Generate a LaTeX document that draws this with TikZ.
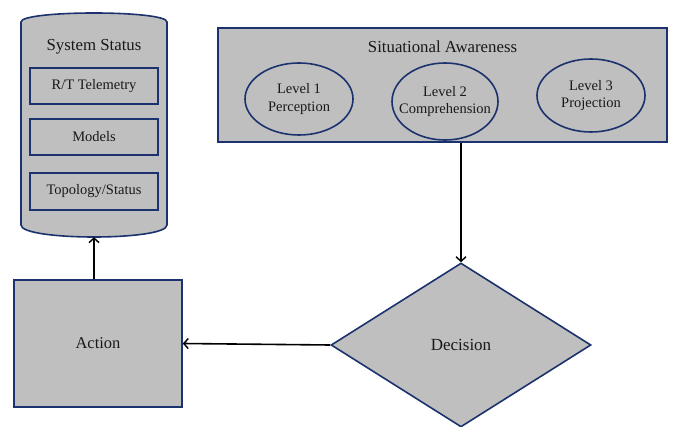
\documentclass[tikz,border=0pt]{standalone}
\usepackage{fontspec}
\setmainfont{Liberation Serif}
\usetikzlibrary{shapes.geometric,arrows.meta}
\definecolor{boxfill}{RGB}{191,191,191}
\definecolor{boxline}{RGB}{28,50,110}
\definecolor{txt}{RGB}{25,25,25}
\newcommand{\zw}[1]{\makebox[0pt]{#1}}
\begin{document}
\begin{tikzpicture}[x=1pt,y=-1pt,
  shp/.style={fill=boxfill,draw=boxline,line width=1.6pt,text=txt,inner sep=0pt},
  inbox/.style={shp,rectangle,minimum width=128pt,minimum height=36pt,font=\fontsize{14.5}{17}\selectfont},
  lvl/.style={shp,ellipse,align=center,font=\fontsize{14.5}{17.5}\selectfont},
  conn/.style={black,line width=1.6pt,-{Straight Barb[length=4.5pt,width=10pt,line width=1.4pt]}}]
\useasboundingbox (0,0) rectangle (676,427);
% System status cylinder
\node[minimum width=146pt,minimum height=224pt,inner sep=0pt] (sys) at (94,125) {};
\draw[shp] (21,22) .. controls (21,10) and (167,10) .. (167,22) -- (167,225)
  .. controls (167,241) and (21,241) .. (21,225) -- cycle;
\node[text=txt,font=\fontsize{16.8}{20}\selectfont] (systitle) at (94,47) {System Status};
\node[inbox] (rt) at (94,86) {R/T Telemetry};
\node[inbox] (models) at (94,137) {Models};
\node[inbox,minimum height=37pt] (topo) at (94,191.5) {Topology/Status};
% Situational awareness
\node[shp,rectangle,minimum width=449pt,minimum height=114pt] (sa) at (442.5,85) {};
\node[text=txt,font=\fontsize{16.8}{20}\selectfont] (satitle) at (442.5,47) {Situational Awareness};
\node[lvl,minimum width=108pt,minimum height=72pt] (l1) at (299,99) {\zw{Level 1}\\\zw{Perception}};
\node[lvl,minimum width=106pt,minimum height=77pt] (l2) at (445,101.5) {\zw{Level 2}\\\zw{Comprehension}};
\node[lvl,minimum width=108pt,minimum height=73pt] (l3) at (591,95.5) {\zw{Level 3}\\\zw{Projection}};
% Action
\node[shp,rectangle,minimum width=168pt,minimum height=127pt,font=\fontsize{16.5}{20}\selectfont] (act) at (98,343.5) {Action};
% Decision
\node[shp,diamond,aspect=1.585,minimum width=260pt,minimum height=164pt,font=\fontsize{17}{20}\selectfont] (dec) at (461,345) {Decision};
% connectors
\draw[conn] (dec.north |- sa.south) -- (dec.north);
\draw[conn] (dec.west) -- (act.east);
\draw[conn] (sys.south |- act.north) -- (sys.south);
\end{tikzpicture}
\end{document}
